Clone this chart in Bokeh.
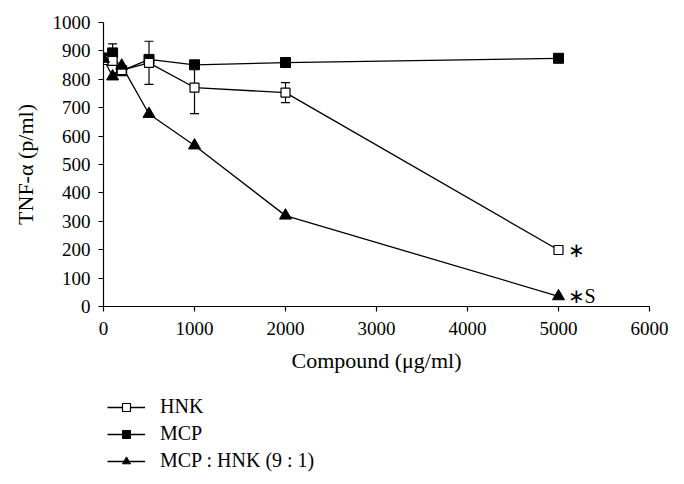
from bokeh.plotting import figure
from bokeh.layouts import column
from bokeh.models import (Range1d, FixedTicker, Legend, LegendItem, Whisker,
                          TeeHead, ColumnDataSource, Label)
from bokeh.embed import file_html
from bokeh.resources import INLINE

# ---- data ----
dose = [0, 100, 200, 500, 1000, 2000, 5000]
hnk = [868, 865, 832, 858, 771, 753, 199]
mcp = [875, 893, 830, 870, 851, 859, 874]
mix = [872, 810, 848, 678, 567, 320, 36]

hnk_err_dose = [500, 1000, 2000]
hnk_err = [76, 92, 35]
mcp_err_dose = [100]
mcp_err = [32]

x_ticks = [0, 1000, 2000, 3000, 4000, 5000, 6000]
y_ticks = [0, 100, 200, 300, 400, 500, 600, 700, 800, 900, 1000]

labels = ["HNK", "MCP", "MCP : HNK (9 : 1)"]
notes = ["∗", "∗S"]

FONT = "Liberation Serif"

p = figure(width=684, height=380, output_backend="svg", toolbar_location=None,
           x_range=Range1d(0, 6000), y_range=Range1d(0, 1000),
           min_border_left=103, min_border_right=35, min_border_top=22,
           min_border_bottom=74)
p.outline_line_color = None
p.xgrid.visible = False
p.ygrid.visible = False

for ax in (p.xaxis, p.yaxis):
    ax.major_tick_out = 5
    ax.major_tick_in = 0
    ax.minor_tick_line_color = None
    ax.axis_line_color = "black"
    ax.major_tick_line_color = "black"
    ax.axis_line_width = 1.2
    ax.major_tick_line_width = 1.2
    ax.major_label_text_font = FONT
    ax.major_label_text_font_size = "19px"
    ax.major_label_text_color = "black"
    ax.axis_label_text_font = FONT
    ax.axis_label_text_font_size = "22px"
    ax.axis_label_text_font_style = "normal"
    ax.axis_label_text_color = "black"

p.xaxis.major_label_standoff = 10
p.yaxis.major_label_standoff = 8
p.xaxis.ticker = FixedTicker(ticks=x_ticks)
p.yaxis.ticker = FixedTicker(ticks=y_ticks)
p.xaxis.axis_label = "Compound (μg/ml)"
p.yaxis.axis_label = "TNF-α (p/ml)"
p.xaxis.axis_label_standoff = 10
p.yaxis.axis_label_standoff = 12

# error bars (drawn under markers)
def idx(xs):
    return [dose.index(v) for v in xs]

hsrc = ColumnDataSource(dict(
    x=hnk_err_dose,
    lo=[hnk[i] - e for i, e in zip(idx(hnk_err_dose), hnk_err)],
    hi=[hnk[i] + e for i, e in zip(idx(hnk_err_dose), hnk_err)]))
msrc = ColumnDataSource(dict(
    x=mcp_err_dose,
    lo=[mcp[i] - e for i, e in zip(idx(mcp_err_dose), mcp_err)],
    hi=[mcp[i] + e for i, e in zip(idx(mcp_err_dose), mcp_err)]))
for src in (hsrc, msrc):
    w = Whisker(base="x", lower="lo", upper="hi", source=src,
                line_color="black", line_width=1.2, level="underlay",
                upper_head=TeeHead(size=9, line_color="black", line_width=1.2),
                lower_head=TeeHead(size=9, line_color="black", line_width=1.2))
    p.add_layout(w)

lw = 1.3
STY = [
    (hnk, dict(marker="square", size=9, fill_color="white", line_color="black", line_width=1.2)),
    (mcp, dict(marker="square", size=10, fill_color="black", line_color="black")),
    (mix, dict(marker="triangle", size=12, fill_color="black", line_color="black")),
]

# draw order: MCP, HNK, mixture
for ser, sty in (STY[1], STY[0], STY[2]):
    p.line(dose, ser, line_color="black", line_width=lw)
for ser, sty in (STY[1], STY[0], STY[2]):
    p.scatter(dose, ser, **sty)

p.add_layout(Label(x=dose[-1], y=hnk[-1], text=notes[0], x_offset=9,
                   text_baseline="middle", text_font=FONT,
                   text_font_size="20px", text_color="black"))
p.add_layout(Label(x=dose[-1], y=mix[-1], text=notes[1], x_offset=9,
                   text_baseline="middle", text_font=FONT,
                   text_font_size="20px", text_color="black"))

# ---- legend panel below ----
q = figure(width=684, height=104, output_backend="svg", toolbar_location=None,
           x_axis_type=None, y_axis_type=None, min_border=0)
q.outline_line_color = None
q.xgrid.visible = False
q.ygrid.visible = False
items = []
for lab, (ser, sty) in zip(labels, STY):
    rl = q.line(dose, ser, line_color="black", line_width=lw, visible=False)
    rs = q.scatter(dose, ser, visible=False, **sty)
    items.append(LegendItem(label=lab, renderers=[rl, rs]))

legend = Legend(items=items, location=(4, 12), orientation="vertical",
                margin=0, padding=0, spacing=4, glyph_width=38,
                glyph_height=20, label_height=23, label_standoff=15,
                border_line_color=None, background_fill_alpha=0,
                inactive_fill_alpha=0,
                label_text_font=FONT, label_text_font_size="20px",
                label_text_color="black")
q.add_layout(legend)

open("out.html", "w").write(file_html(column(p, q), INLINE))
